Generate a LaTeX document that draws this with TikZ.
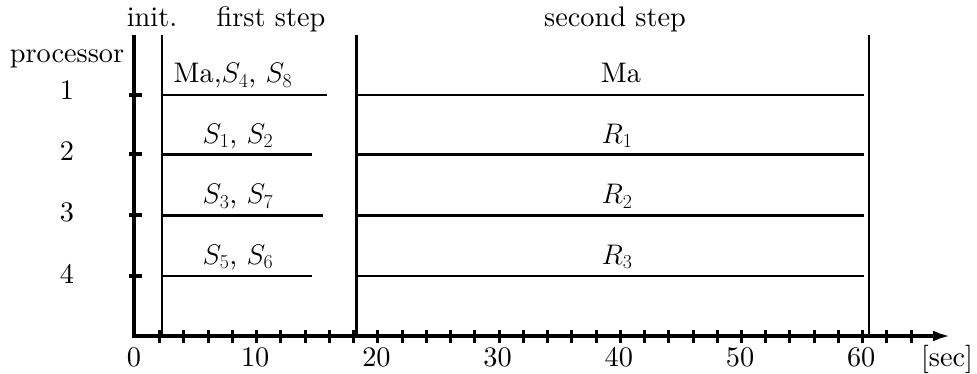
\RequirePackage{fix-cm}
\documentclass[tikz,border=0pt]{standalone}
\usepackage{fontspec}
\setmainfont{lmroman10-regular.otf}
\usetikzlibrary{arrows.meta}
\begin{document}
\begin{tikzpicture}[x=1pt,y=-1pt,
  lab/.style={font=\fontsize{28.3}{34}\selectfont, inner sep=0pt, anchor=base},
  thinline/.style={line width=2.5pt},
  axisline/.style={line width=4.5pt, line join=miter},
  xtick/.style={line width=3pt},
  ytick/.style={line width=4pt}]
\useasboundingbox (0,0) rectangle (977,374);
% axes
\coordinate (ytop) at (134,35);
\coordinate (orig) at (134,336);
\coordinate (xend) at (950,336);
\draw[axisline,-{Latex[length=17pt,width=11pt]}] (ytop) -- (orig) -- (xend);
% x ticks
\foreach \t in {2,4,...,64} {
  \coordinate (xt\t a) at ({135.5+12.12*\t},330);
  \coordinate (xt\t b) at ({135.5+12.12*\t},343);
  \draw[xtick] (xt\t a) -- (xt\t b);
}
\foreach \t in {0,10,...,60}
  \node[lab] (xl\t) at ({134+12.12*\t},366) {\t};
\node[lab] (sec) at (947,366) {[sec]};
% y ticks and processor labels
\foreach \i/\y in {1/95,2/154.5,3/215.5,4/276} {
  \coordinate (yt\i a) at (129,\y);
  \coordinate (yt\i b) at (142,\y);
  \draw[ytick] (yt\i a) -- (yt\i b);
}
\node[lab] (proc) at (67,62.5) {processor};
\node[lab] (p1) at (67,100) {1};
\node[lab] (p2) at (67,161) {2};
\node[lab] (p3) at (67,222) {3};
\node[lab] (p4) at (67,283) {4};
% vertical phase lines
\coordinate (v1t) at (162,35);   \coordinate (v1b) at (162,336);
\coordinate (v2t) at (356.5,35); \coordinate (v2b) at (356.5,336);
\coordinate (v3t) at (869,35);   \coordinate (v3b) at (869,336);
\draw[thinline] (v1t) -- (v1b);
\draw[thinline] (v2t) -- (v2b);
\draw[thinline] (v3t) -- (v3b);
% headers
\node[lab] (hinit) at (152,27) {init.};
\node[lab] (hfirst) at (271,27) {first step};
\node[lab] (hsecond) at (615,27) {second step};
% first step rows
\foreach \i/\y/\e in {1/95/327,2/154.5/311.5,3/215.5/323,4/276/311.5} {
  \coordinate (fa\i) at (162,\y);
  \coordinate (fb\i) at (\e,\y);
  \draw[thinline] (fa\i) -- (fb\i);
  \coordinate (sa\i) at (356.5,\y);
  \coordinate (sb\i) at (864,\y);
  \draw[thinline] (sa\i) -- (sb\i);
}
\node[lab] (f1) at (233,83) {Ma,$S_4$, $S_8$};
\node[lab] (f2) at (238,143.5) {$S_1$, $S_2$};
\node[lab] (f3) at (238,204) {$S_3$, $S_7$};
\node[lab] (f4) at (238,264.5) {$S_5$, $S_6$};
\node[lab] (s1) at (621,83) {Ma};
\node[lab] (s2) at (617,143.5) {$R_1$};
\node[lab] (s3) at (617,204) {$R_2$};
\node[lab] (s4) at (617,264.5) {$R_3$};
\end{tikzpicture}
\end{document}
